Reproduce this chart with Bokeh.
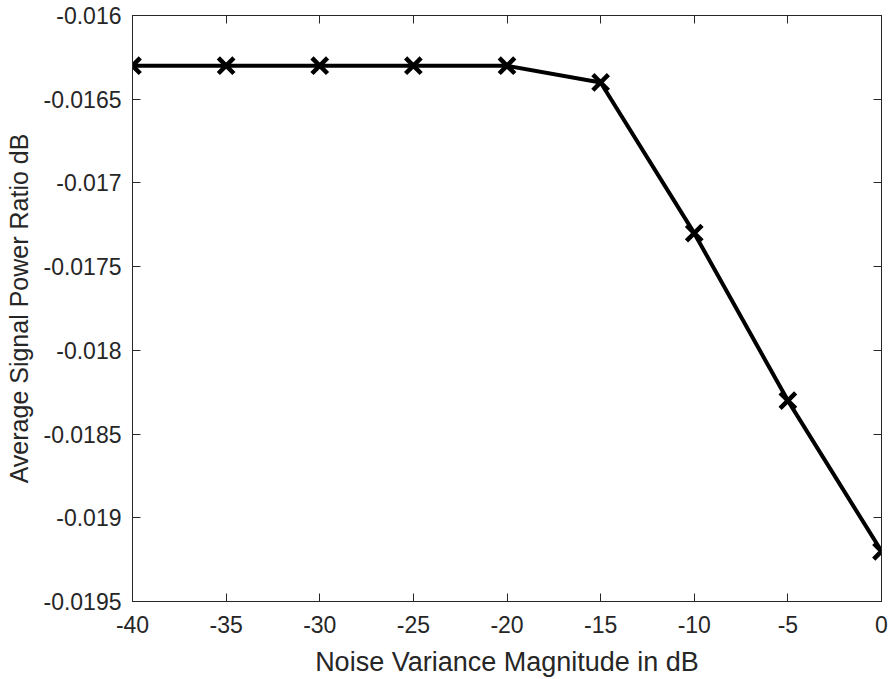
from bokeh.plotting import figure
from bokeh.models import LinearAxis, FixedTicker, ColumnDataSource
from bokeh.embed import file_html
from bokeh.resources import INLINE

# Data
noise_db = [-40, -35, -30, -25, -20, -15, -10, -5, 0]
power_ratio = [-0.0163, -0.0163, -0.0163, -0.0163, -0.0163, -0.0164, -0.0173, -0.0183, -0.0192]
x_ticks = [-40, -35, -30, -25, -20, -15, -10, -5, 0]
y_ticks = [-0.0195, -0.019, -0.0185, -0.018, -0.0175, -0.017, -0.0165, -0.016]

AX = "#262626"
FONT = "Liberation Sans"

p = figure(width=888, height=679, output_backend="svg", toolbar_location=None,
           x_range=(-40, 0), y_range=(-0.0195, -0.016),
           min_border_left=132, min_border_right=7, min_border_top=15, min_border_bottom=72)
p.background_fill_color = "white"
p.border_fill_color = "white"
p.outline_line_color = AX
p.outline_line_width = 1
p.xgrid.visible = False
p.ygrid.visible = False

src = ColumnDataSource(dict(x=noise_db, y=power_ratio))
p.line("x", "y", source=src, line_color="black", line_width=4)
p.scatter("x", "y", source=src, marker="x", size=22, line_color="black", line_width=4.5)

def style_axis(ax, ticks, labels=True):
    ax.ticker = FixedTicker(ticks=ticks)
    ax.axis_line_color = AX
    ax.major_tick_line_color = AX
    ax.major_tick_in = 8
    ax.major_tick_out = 0
    ax.minor_tick_line_color = None
    ax.major_label_text_font = FONT
    ax.major_label_text_font_size = "23px"
    ax.major_label_text_color = AX
    ax.axis_label_text_font = FONT
    ax.axis_label_text_font_size = "27px"
    ax.axis_label_text_font_style = "normal"
    ax.axis_label_text_color = AX
    if labels:
        ax.major_label_overrides = {t: f"{t:g}" for t in ticks}
    else:
        ax.major_label_overrides = {t: " " for t in ticks}

xa = p.xaxis[0]
ya = p.yaxis[0]
style_axis(xa, x_ticks)
style_axis(ya, y_ticks)
xa.axis_label = "Noise Variance Magnitude in dB"
ya.axis_label = "Average Signal Power Ratio dB"
ya.axis_label_text_font_size = "25px"
xa.major_label_standoff = 14
ya.major_label_standoff = 11
xa.axis_label_standoff = 11
ya.axis_label_standoff = 7

top = LinearAxis()
style_axis(top, x_ticks, labels=False)
top.major_label_text_font_size = "0px"
p.add_layout(top, "above")
right = LinearAxis()
style_axis(right, y_ticks, labels=False)
right.major_label_text_font_size = "0px"
p.add_layout(right, "right")

open("out.html", "w").write(file_html(p, INLINE))
